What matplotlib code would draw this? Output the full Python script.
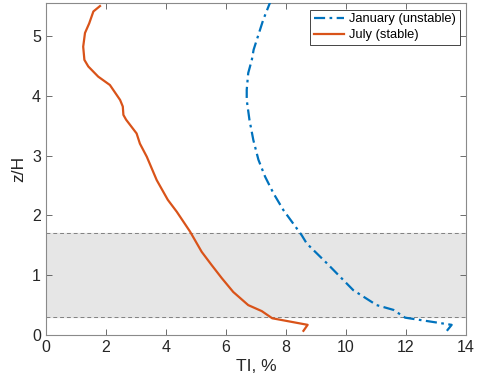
import matplotlib.pyplot as plt
import numpy as np

plt.rcParams['font.family'] = ['Liberation Sans', 'DejaVu Sans']

# Perfiles de intensidad de turbulencia (TI, %) frente a z/H
z_jan = [0.07, 0.17, 0.29, 0.42, 0.50, 0.75, 1.20, 1.53, 1.67, 2.09, 2.37, 2.65, 2.93, 3.26, 3.60, 3.93, 4.10,
         4.38, 4.60, 4.77, 5.27, 5.60]
ti_jan = [13.36, 13.52, 11.97, 11.58, 11.02, 10.24, 9.36, 8.69, 8.52, 7.91, 7.58, 7.30, 7.08, 6.91, 6.78, 6.69, 6.69,
          6.74, 6.86, 6.92, 7.24, 7.50]

z_jul = [0.07, 0.17, 0.28, 0.40, 0.50, 0.72, 0.95, 1.17, 1.39, 1.73, 2.06, 2.26, 2.59, 2.98, 3.20, 3.37, 3.60, 3.68,
         3.82, 3.93, 4.18, 4.32, 4.49, 4.60, 4.82, 5.05, 5.21, 5.41, 5.50]
ti_jul = [8.58, 8.72, 7.54, 7.19, 6.74, 6.24, 5.86, 5.52, 5.19, 4.80, 4.36, 4.06, 3.69, 3.36, 3.13, 3.02, 2.67, 2.58,
          2.56, 2.47, 2.13, 1.74, 1.41, 1.28, 1.24, 1.30, 1.44, 1.58, 1.80]

# Banda sombreada
z_low, z_high = 0.3, 1.7

fig = plt.figure(figsize=(4.79, 3.82), dpi=100)
ax = fig.add_axes([0.096, 0.123, 0.877, 0.869])

ax.axhspan(z_low, z_high, color='#e6e6e6', zorder=0)
ax.axhline(z_low, color='#808080', lw=0.7, ls=(0, (4, 3)), zorder=1)
ax.axhline(z_high, color='#808080', lw=0.7, ls=(0, (4, 3)), zorder=1)

ax.plot(ti_jan, z_jan, color='#0072BD', lw=1.6, ls=(0, (5, 2, 1.2, 2)), label='January (unstable)', zorder=3)
ax.plot(ti_jul, z_jul, color='#D95319', lw=1.6, label='July (stable)', zorder=3)

ax.set_xlim(0, 14)
ax.set_ylim(0, 5.55)
ax.set_xticks(np.arange(0, 15, 2))
ax.set_yticks(np.arange(0, 6, 1))
ax.set_xlabel('TI, %', fontsize=12.5, color='#262626', labelpad=3)
ax.set_ylabel('z/H', fontsize=12.5, color='#262626', labelpad=4)
ax.tick_params(direction='in', top=True, right=True, length=4, width=0.6,
               color='#555555', labelsize=11.5, labelcolor='#262626')
for s in ax.spines.values():
    s.set_color('#8a8a8a')
    s.set_linewidth(0.8)

leg = ax.legend(loc='upper right', fontsize=9.3, fancybox=False, framealpha=1,
                edgecolor='#262626', handlelength=2.3, borderaxespad=0.5,
                borderpad=0.3, labelspacing=0.3, handletextpad=0.4)
leg.get_frame().set_linewidth(0.6)

plt.savefig('out.png', dpi=100)
